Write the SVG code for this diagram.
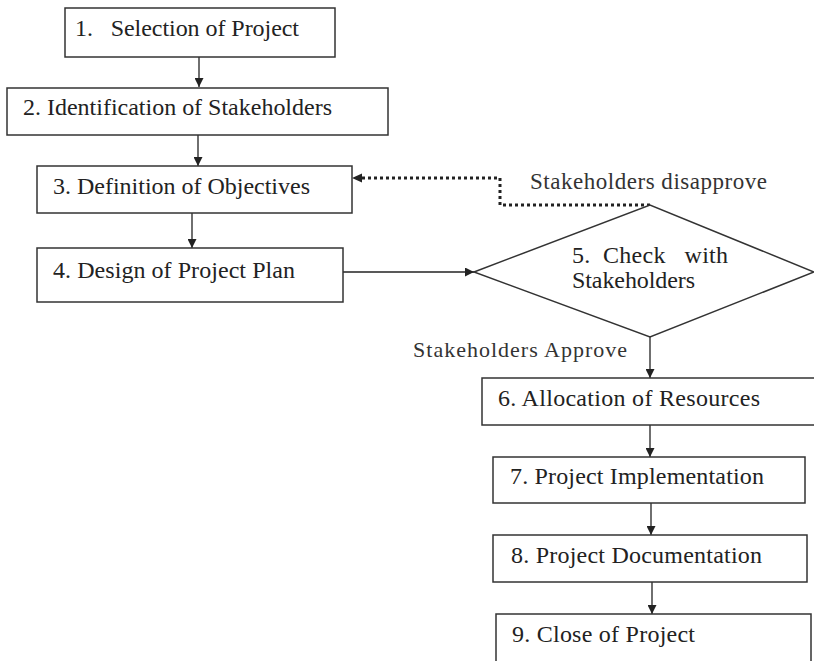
<svg xmlns="http://www.w3.org/2000/svg" width="814" height="661" viewBox="0 0 814 661">
<defs>
<marker id="ah" viewBox="0 0 10 10" refX="10" refY="5" markerWidth="9" markerHeight="9" markerUnits="userSpaceOnUse" orient="auto">
<path d="M0,0 L10,5 L0,10 Z" fill="#222"/>
</marker>
</defs>
<style>
.box{fill:#fff;stroke:#333;stroke-width:1.5}
.t{font-family:"Liberation Serif","Times New Roman",serif;font-size:24px;fill:#222}
.s{font-family:"Liberation Serif","Times New Roman",serif;font-size:23px;fill:#333}
.c{fill:none;stroke:#222;stroke-width:1.3}
.d{fill:none;stroke:#222;stroke-width:3;stroke-dasharray:3 3}
</style>
<rect width="814" height="661" fill="#fff"/>
<g id="connectors">
<line class="c" x1="199" y1="57" x2="199" y2="87" marker-end="url(#ah)"/>
<line class="c" x1="198" y1="135" x2="198" y2="166" marker-end="url(#ah)"/>
<line class="c" x1="192" y1="213" x2="192" y2="248" marker-end="url(#ah)"/>
<line class="c" x1="343" y1="272" x2="474" y2="272" marker-end="url(#ah)"/>
<polyline class="d" points="650,205 500,205 500,178 362,178"/>
<path d="M352,178 L362,173.5 L362,182.5 Z" fill="#222"/>
<line class="c" x1="650" y1="337" x2="650" y2="378" marker-end="url(#ah)"/>
<line class="c" x1="650" y1="425" x2="650" y2="457" marker-end="url(#ah)"/>
<line class="c" x1="651" y1="503" x2="651" y2="535" marker-end="url(#ah)"/>
<line class="c" x1="652" y1="582" x2="652" y2="614" marker-end="url(#ah)"/>
<text class="s" x="530" y="189" textLength="237" lengthAdjust="spacing">Stakeholders disapprove</text>
<text class="s" x="413" y="357" textLength="214" lengthAdjust="spacing" style="font-size:22px">Stakeholders Approve</text>
</g>
<g id="n1"><rect class="box" x="65" y="8" width="270" height="49"/><text class="t" x="75" y="36" xml:space="preserve" textLength="224" lengthAdjust="spacing">1.   Selection of Project</text></g>
<g id="n2"><rect class="box" x="7" y="88" width="381" height="47"/><text class="t" x="23" y="115" textLength="309" lengthAdjust="spacing">2. Identification of Stakeholders</text></g>
<g id="n3"><rect class="box" x="37" y="166" width="315" height="47"/><text class="t" x="53" y="194" textLength="257" lengthAdjust="spacing">3. Definition of Objectives</text></g>
<g id="n4"><rect class="box" x="37" y="248" width="306" height="54"/><text class="t" x="53" y="278" textLength="242" lengthAdjust="spacing">4. Design of Project Plan</text></g>
<g id="n5"><polygon class="box" points="474,272 650,205 814,272 650,337"/><text class="t" x="572" y="263" xml:space="preserve" textLength="156" lengthAdjust="spacing">5.  Check   with</text><text class="t" x="572" y="288" textLength="123" lengthAdjust="spacing">Stakeholders</text></g>
<g id="n6"><rect class="box" x="482" y="378" width="340" height="47"/><text class="t" x="498" y="406" textLength="262" lengthAdjust="spacing">6. Allocation of Resources</text></g>
<g id="n7"><rect class="box" x="493" y="457" width="312" height="46"/><text class="t" x="510" y="484" textLength="254" lengthAdjust="spacing">7. Project Implementation</text></g>
<g id="n8"><rect class="box" x="493" y="535" width="314" height="47"/><text class="t" x="511" y="563" textLength="251" lengthAdjust="spacing">8. Project Documentation</text></g>
<g id="n9"><rect class="box" x="496" y="614" width="315" height="60"/><text class="t" x="512" y="642" textLength="183" lengthAdjust="spacing">9. Close of Project</text></g>
</svg>
